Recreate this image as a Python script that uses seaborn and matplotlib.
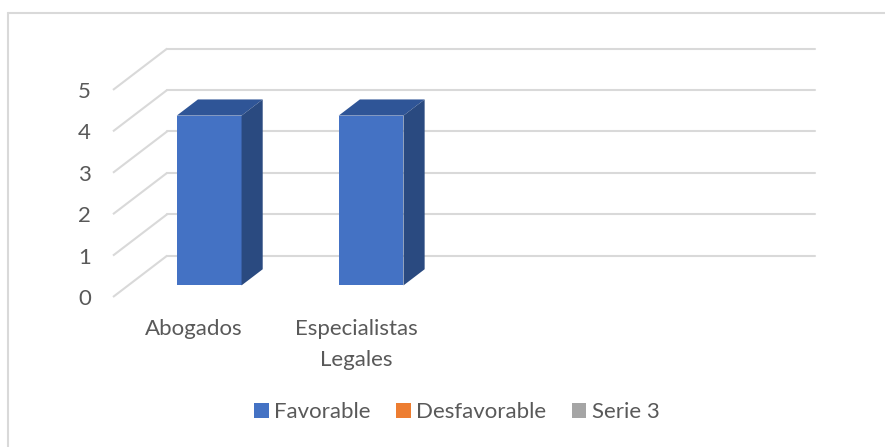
import numpy as np
import pandas as pd
import seaborn as sns
import matplotlib.pyplot as plt
from matplotlib.patches import Polygon, Patch
from matplotlib.lines import Line2D

# Data
categories = ['Abogados', 'Especialistas\nLegales']
favorable = [4.1, 4.1]
desfavorable = [0, 0]
serie3 = [0, 0]
series_names = ['Favorable', 'Desfavorable', 'Serie 3']
series_colors = ['#4472C4', '#ED7D31', '#A5A5A5']
y_ticks = [0, 1, 2, 3, 4, 5]

n_slots = 4          # chart has room for 4 categories, only 2 filled
depth_x = 0.335      # oblique offset of back wall (category units)
depth_y = 1.0        # oblique offset of back wall (value units)
bar_z0, bar_dz = 0.28, 0.39
bar_w = 0.40

sns.set_style('white')
plt.rcParams['font.family'] = ['Lato', 'DejaVu Sans']
text_col = '#595959'
grid_col = '#D9D9D9'
fs = 16

fig = plt.figure(figsize=(8.85, 4.47), dpi=100)
W, H = 885, 447
ax = fig.add_axes([113 / W, (H - 297) / H, (648 + 54) / W, 248.5 / H])

df = pd.DataFrame({'categoria': categories, 'valor': favorable})
sns.barplot(data=df, x='categoria', y='valor', color=series_colors[0],
            saturation=1, width=bar_w, ax=ax, zorder=3)

ax.set_xlim(-0.5, n_slots - 0.5 + depth_x)
ax.set_ylim(0, 6)

# walls: diagonal side lines + back horizontal gridlines
x0 = -0.5
for v in y_ticks:
    ax.plot([x0, x0 + depth_x], [v, v + depth_y], color=grid_col, lw=1.5,
            zorder=1, clip_on=False, solid_capstyle='butt')
    ax.plot([x0 + depth_x, n_slots - 0.5 + depth_x], [v + depth_y, v + depth_y],
            color=grid_col, lw=1.5, zorder=1, clip_on=False)

# turn the flat bars into boxes
for p in ax.patches:
    px, h = p.get_x(), p.get_height()
    fx = px + bar_z0 * depth_x
    fy = bar_z0 * depth_y
    p.set_x(fx)
    p.set_y(fy)
    p.set_linewidth(0)
    ox, oy = bar_dz * depth_x, bar_dz * depth_y
    top = Polygon([(fx, fy + h), (fx + bar_w, fy + h),
                   (fx + bar_w + ox, fy + h + oy), (fx + ox, fy + h + oy)],
                  closed=True, color='#2F5597', lw=0, zorder=3)
    side = Polygon([(fx + bar_w, fy), (fx + bar_w + ox, fy + oy),
                    (fx + bar_w + ox, fy + h + oy), (fx + bar_w, fy + h)],
                   closed=True, color='#2A4A80', lw=0, zorder=3)
    ax.add_patch(top)
    ax.add_patch(side)

ax.set_yticks(y_ticks)
ax.set_yticklabels([str(t) for t in y_ticks], fontsize=fs, color=text_col)
ax.set_xticks(range(len(categories)))
ax.set_xticklabels(categories, fontsize=fs, color=text_col, linespacing=1.65)
ax.tick_params(axis='y', length=0, pad=16)
ax.tick_params(axis='x', length=0, pad=16)
ax.set_xlabel('')
ax.set_ylabel('')
sns.despine(ax=ax, left=True, bottom=True)

handles = [Patch(facecolor=c, edgecolor='none') for c in series_colors]
fig.legend(handles, series_names, loc='center', ncol=3,
           bbox_to_anchor=(457 / W, 1 - 412 / H), frameon=False,
           handlelength=0.65, handleheight=0.65, handletextpad=0.25,
           columnspacing=1.15, fontsize=fs, labelcolor=text_col)

# outer chart border
fig.add_artist(Line2D([8 / W, 1], [1 - 13 / H, 1 - 13 / H], color=grid_col, lw=1.5))
fig.add_artist(Line2D([8 / W, 8 / W], [0, 1 - 13 / H], color=grid_col, lw=1.5))

fig.savefig('out.png', dpi=100)
